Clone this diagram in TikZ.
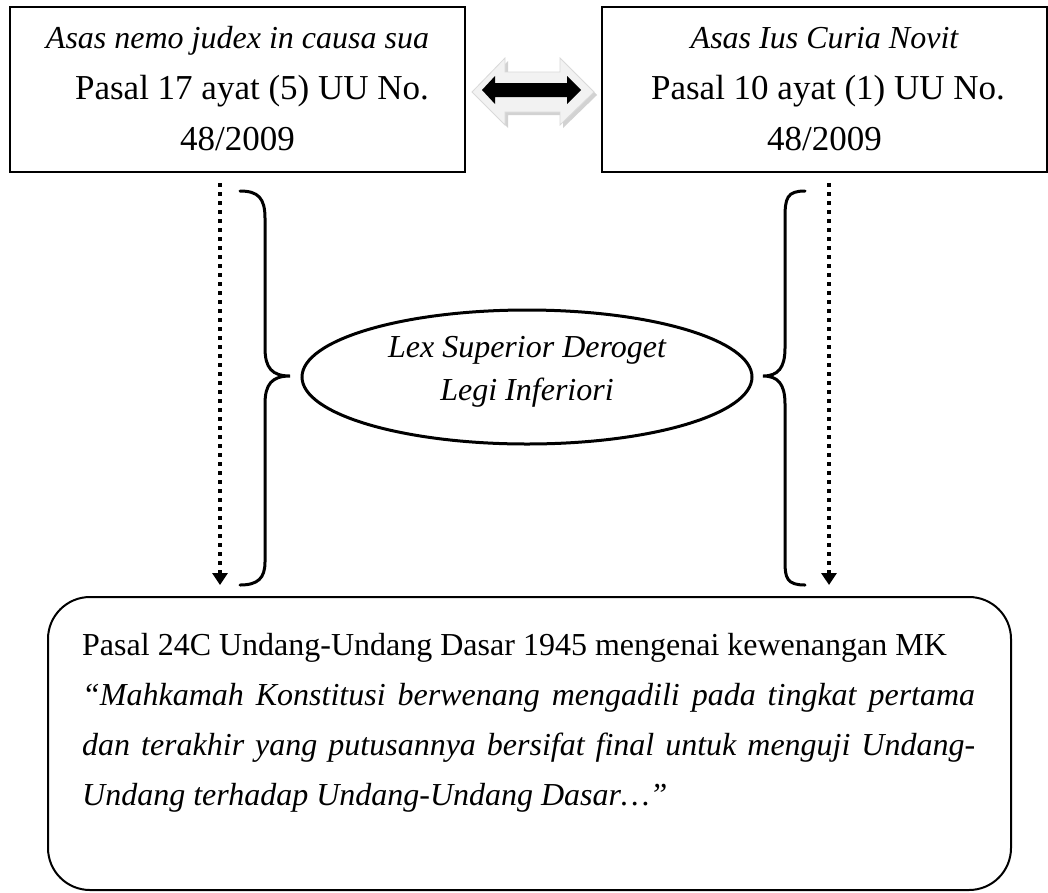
\documentclass[tikz,border=0pt]{standalone}
\usepackage{fontspec}
\setmainfont{Liberation Serif}
\usetikzlibrary{arrows.meta,shapes.geometric}
\newcommand\diagfs{\fontsize{32}{40}\selectfont}
\newcommand\diagbig{\fontsize{35}{42}\selectfont}
\begin{document}
\begin{tikzpicture}[x=1pt,y=-1pt,
  txt/.style={inner sep=0pt, anchor=base, font=\diagfs},
  bigtxt/.style={inner sep=0pt, anchor=base, font=\diagbig},
  boxnode/.style={draw, line width=2.2pt, inner sep=0pt},
  dotarrow/.style={line width=4pt, dash pattern=on 4pt off 5pt, -{Triangle[width=15pt,length=12pt]}},
  bracepath/.style={line width=3pt, line cap=round},
  grayarrow/.style={fill=gray!10, draw=gray!30, line width=0.8pt},
  shadowarrow/.style={fill=gray!35, draw=none},
  blackarrow/.style={fill=black, draw=none}]
\useasboundingbox (0,0) rectangle (1048,892);
\fill[white] (0,0) rectangle (1048,892);

% top boxes
\node[boxnode, minimum width=455pt, minimum height=165pt] (lbox) at (237.5,89.5) {};
\node[boxnode, minimum width=445pt, minimum height=165pt] (rbox) at (824.5,89.5) {};
\node[txt] (l1) at (237.5,48) {\itshape Asas nemo judex in causa sua};
\node[bigtxt] (l2) at (252,99) {Pasal 17 ayat (5) UU No.};
\node[bigtxt] (l3) at (237.5,150) {48/2009};
\node[txt] (r1) at (824.5,48) {\itshape Asas Ius Curia Novit};
\node[bigtxt] (r2) at (828,99) {Pasal 10 ayat (1) UU No.};
\node[bigtxt] (r3) at (824.5,150) {48/2009};

% double arrow (3D block arrow)
\path[shadowarrow] (475,95) -- (508,61) -- (508,75) -- (563,75) -- (563,61) -- (597,95) -- (563,128) -- (563,115) -- (508,115) -- (508,128) -- cycle;
\path[grayarrow] (472,92) -- (505,58) -- (505,72) -- (560,72) -- (560,58) -- (594,92) -- (560,125) -- (560,112) -- (505,112) -- (505,125) -- cycle;
\path[blackarrow] (482,90) -- (495,76) -- (495,83) -- (567,83) -- (567,76) -- (581,90) -- (567,104) -- (567,97) -- (495,97) -- (495,104) -- cycle;

% ellipse
\node[draw, ellipse, line width=3pt, minimum width=450pt, minimum height=134pt, inner sep=0pt] (ell) at (527,377) {};
\node[txt] (e1) at (527,357) {\itshape Lex Superior Deroget};
\node[txt] (e2) at (527,400) {\itshape Legi Inferiori};

% braces
\draw[bracepath] (240,191) .. controls (258,191) and (265,198) .. (265,218) -- (265,348)
  .. controls (265,368) and (272,376) .. (290,376)
  .. controls (272,376) and (265,384) .. (265,404) -- (265,562)
  .. controls (265,578) and (258,585) .. (240,585);
\draw[bracepath] (805,191) .. controls (787,191) and (785,198) .. (785,218) -- (785,348)
  .. controls (785,368) and (778,376) .. (763,376)
  .. controls (778,376) and (785,384) .. (785,404) -- (785,562)
  .. controls (785,578) and (787,585) .. (805,585);

% dotted arrows
\coordinate (la) at (220,183);
\coordinate (lb) at (220,585);
\coordinate (ra) at (829,183);
\coordinate (rb) at (829,585);
\draw[dotarrow] (la) -- (lb);
\draw[dotarrow] (ra) -- (rb);

% bottom box
\node[draw, line width=2pt, rounded corners=42pt, minimum width=963pt, minimum height=293pt, inner sep=0pt] (bbox) at (529.5,743.5) {};
\node[txt, anchor=base west] (b1) at (82,655) {Pasal 24C Undang-Undang Dasar 1945 mengenai kewenangan MK};
\node[txt, anchor=base west] (b2) at (82,705) {\makebox[893pt][s]{\itshape “Mahkamah Konstitusi berwenang mengadili pada tingkat pertama}};
\node[txt, anchor=base west] (b3) at (82,755) {\makebox[893pt][s]{\itshape dan terakhir yang putusannya bersifat final untuk menguji Undang-}};
\node[txt, anchor=base west] (b4) at (82,805) {\itshape Undang terhadap Undang-Undang Dasar…”};
\end{tikzpicture}
\end{document}
